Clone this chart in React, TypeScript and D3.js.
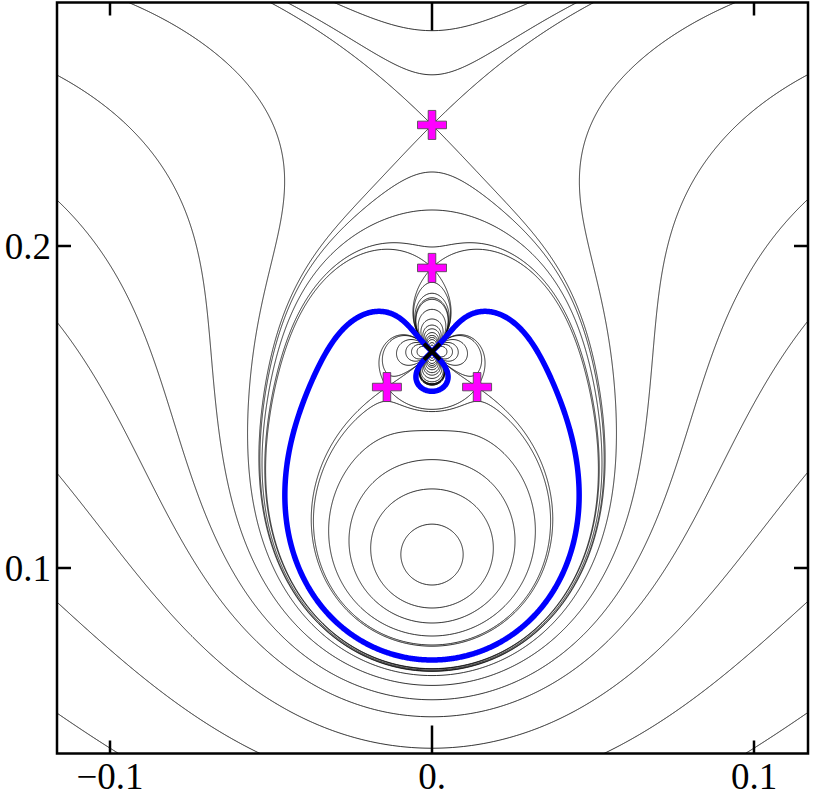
import React, { useMemo } from "react";
import * as d3 from "d3";

// ---------- field model (parameters read / fitted from the picture) ----------
const sourceX = [0, 0]; // plasma current, coil
const sourceY = [0.1035, 0.1672];
const sourceStrength = [0.1378, 4.15e-6]; // line current, quadrupole coil
const plasmaShape = [5.0e-6, 0.02]; // softened quadrupole moment, core radius
const externalCenter = [0, 0.2376];
const externalField = [1.0, 0.72, 1.9]; // uniform, quadrupole, hexapole coefficients

// approximate null (magenta) positions, refined numerically
const nullSeeds: [number, number][] = [
  [0, 0.2376],
  [0, 0.1932],
  [-0.0152, 0.1556],
  [0.0152, 0.1556],
];

// ---------- contour anchors (where drawn lines cross reference lines) ----------
const crossingsAboveX0 = [0.22298, 0.21118, 0.19969]; // x = 0, between X-point and coil null
const crossingsBelowX0 = [0.09472, 0.08758, 0.08292, 0.07888, 0.07609]; // x = 0, below the core
const lobeCrossingsX0 = [0.17093, 0.17, 0.16922]; // x = 0, just above the coil
const leftEdgeX = [-0.1165];
const leftEdgeCrossings = [0.2531, 0.2143, 0.1764, 0.1295, 0.08944, 0.05497];
const topEdgeY = [0.2757];
const topEdgeCrossings = [-0.0944];
const blueCrossingX0 = [0.07143];

// ---------- axes ----------
const xTicks = [-0.1, 0, 0.1];
const xTickLabels = ["\u22120.1", "0.", "0.1"];
const yTicks = [0.1, 0.2];
const yTickLabels = ["0.1", "0.2"];

const W = 813;
const H = 796;
const L = 57,
  R = 808,
  T = 2.5,
  B = 753.5;

const xs = d3.scaleLinear().domain([-0.1, 0.1]).range([110, 754]);
const ys = d3.scaleLinear().domain([0.1, 0.2]).range([568, 246]);

function psi(px: number, py: number): number {
  const X = px - sourceX[0];
  const Y = py - sourceY[0];
  const rp2 = Math.max(X * X + Y * Y, 1e-12);
  const Xc = px - sourceX[1];
  const Yc = py - sourceY[1];
  const rc2 = Math.max(Xc * Xc + Yc * Yc, 1e-10);
  const u = py - externalCenter[1];
  const x2 = (px - externalCenter[0]) * (px - externalCenter[0]);
  const a2 = plasmaShape[1] * plasmaShape[1];
  return (
    0.5 * sourceStrength[0] * Math.log(rp2) +
    (plasmaShape[0] * (Y * Y - X * X)) / ((rp2 + a2) * (rp2 + a2)) -
    externalField[0] * py +
    externalField[1] * (u * u - x2) +
    externalField[2] * (u * u * u - 3 * x2 * u) -
    (sourceStrength[1] * (Xc * Xc - Yc * Yc)) / (rc2 * rc2)
  );
}

function findNull(seed: [number, number]): [number, number] {
  let best: [number, number] = seed;
  let bestG = Infinity;
  const h = 1e-6;
  const onAxis = seed[0] === 0;
  const nI = onAxis ? 0 : 80;
  for (let i = -nI; i <= nI; i++) {
    for (let j = -80; j <= 80; j++) {
      const px = seed[0] + i * 1e-4;
      const py = seed[1] + j * 1e-4;
      const gx = (psi(px + h, py) - psi(px - h, py)) / (2 * h);
      const gy = (psi(px, py + h) - psi(px, py - h)) / (2 * h);
      const g = gx * gx + gy * gy;
      if (g < bestG) {
        bestG = g;
        best = [px, py];
      }
    }
  }
  return best;
}

export default function App() {
  const data = useMemo(() => {
    const nulls = nullSeeds.map(findNull);
    const levels: number[] = [];
    crossingsAboveX0.forEach((v) => levels.push(psi(0, v)));
    crossingsBelowX0.forEach((v) => levels.push(psi(0, v)));
    lobeCrossingsX0.forEach((v) => levels.push(psi(0, v)));
    leftEdgeCrossings.forEach((v) => levels.push(psi(leftEdgeX[0], v)));
    topEdgeCrossings.forEach((v) => levels.push(psi(v, topEdgeY[0])));
    nulls.slice(0, 3).forEach((n) => levels.push(psi(n[0], n[1])));
    const blueLevel = psi(0, blueCrossingX0[0]);

    const gx0 = L - 5;
    const gy0 = T - 5;
    const nx = Math.ceil(R - L) + 11;
    const ny = Math.ceil(B - T) + 11;
    const values = new Float64Array(nx * ny);
    for (let j = 0; j < ny; j++) {
      const py = ys.invert(gy0 + j);
      for (let i = 0; i < nx; i++) {
        values[j * nx + i] = psi(xs.invert(gx0 + i), py);
      }
    }
    const gen = d3.contours().size([nx, ny]);
    const proj = d3.geoTransform({
      point: function (this: any, px: number, py: number) {
        this.stream.point(gx0 + px - 0.5, gy0 + py - 0.5);
      },
    });
    const path = d3.geoPath(proj);
    const black = levels.map((lv) => path(gen.contour(values as any, lv)) || "");
    const blue = path(gen.contour(values as any, blueLevel)) || "";
    return { nulls, black, blue };
  }, []);

  const plus = (cx: number, cy: number) => {
    const a = 14.5,
      b = 3.8;
    return `M${cx - b},${cy - a}H${cx + b}V${cy - b}H${cx + a}V${cy + b}H${cx + b}V${cy + a}H${cx - b}V${cy + b}H${cx - a}V${cy - b}H${cx - b}Z`;
  };

  const coilPx = xs(sourceX[1]);
  const coilPy = ys(sourceY[1]);
  const fontStyle = { fontFamily: "'Liberation Serif', 'Times New Roman', Times, serif" };

  return (
    <svg width={W} height={H} style={{ position: "absolute", left: 0, top: 0, background: "#fff" }}>
      <defs>
        <clipPath id="plotClip">
          <rect x={L} y={T} width={R - L} height={B - T} />
        </clipPath>
      </defs>
      <g clipPath="url(#plotClip)">
        {data.black.map((d, i) => (
          <path key={i} d={d} fill="none" stroke="#000" strokeWidth={0.8} strokeLinejoin="round" />
        ))}
        <path d={data.blue} fill="none" stroke="#0000ff" strokeWidth={5.5} strokeLinejoin="round" />
      </g>
      {data.nulls.map((n, i) => (
        <path key={i} d={plus(xs(n[0]), ys(n[1]))} fill="#ff00ff" stroke="#444" strokeWidth={0.8} />
      ))}
      <g stroke="#000" strokeWidth={4} strokeLinecap="butt">
        <line x1={coilPx - 8} y1={coilPy - 8} x2={coilPx + 8} y2={coilPy + 8} />
        <line x1={coilPx - 8} y1={coilPy + 8} x2={coilPx + 8} y2={coilPy - 8} />
      </g>
      <rect x={L} y={T} width={R - L} height={B - T} fill="none" stroke="#000" strokeWidth={2.5} />
      <g stroke="#000" strokeWidth={2.5}>
        {xTicks.map((t, i) => {
          const len = t === 0 ? 28 : 13;
          return (
            <g key={i}>
              <line x1={xs(t)} x2={xs(t)} y1={B} y2={B - len} />
              <line x1={xs(t)} x2={xs(t)} y1={T} y2={T + len} />
            </g>
          );
        })}
        {yTicks.map((t, i) => (
          <g key={i}>
            <line x1={L} x2={L + 14} y1={ys(t)} y2={ys(t)} />
            <line x1={R} x2={R - 14} y1={ys(t)} y2={ys(t)} />
          </g>
        ))}
      </g>
      <g fontSize={37} fill="#000">
        {xTicks.map((t, i) => (
          <text key={i} x={xs(t)} y={789} textAnchor="middle" style={fontStyle}>
            {xTickLabels[i]}
          </text>
        ))}
        {yTicks.map((t, i) => (
          <text key={i} x={51} y={ys(t) + 12.5} textAnchor="end" style={fontStyle}>
            {yTickLabels[i]}
          </text>
        ))}
      </g>
    </svg>
  );
}
